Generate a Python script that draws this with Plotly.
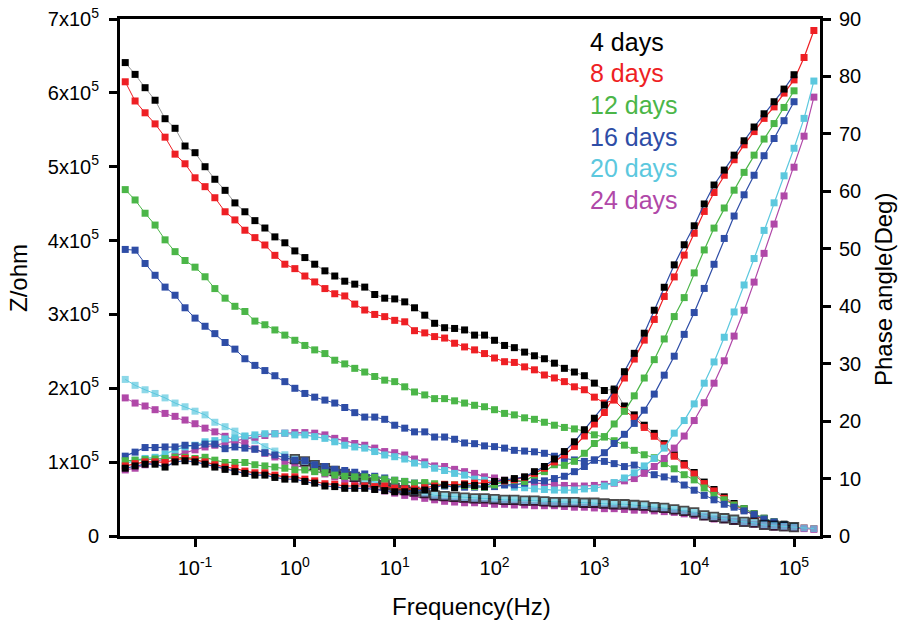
import plotly.graph_objects as go

# Frequencies (Hz), 10 points per decade
freq = [0.0200, 0.0251, 0.0316, 0.0398, 0.0501, 0.0631, 0.0794,
        0.100, 0.126, 0.158, 0.200, 0.251, 0.316, 0.398, 0.501, 0.631, 0.794,
        1.00, 1.26, 1.58, 2.00, 2.51, 3.16, 3.98, 5.01, 6.31, 7.94,
        10.0, 12.6, 15.8, 20.0, 25.1, 31.6, 39.8, 50.1, 63.1, 79.4,
        100, 126, 158, 200, 251, 316, 398, 501, 631, 794,
        1000, 1260, 1580, 2000, 2510, 3160, 3980, 5010, 6310, 7940,
        10000, 12600, 15800, 20000, 25100, 31600, 39800, 50100, 63100, 79400,
        100000, 126000, 158000]

Z_UNIT = 1e5  # values below are in units of 10^5 ohm

z_4d = [6.41, 6.25, 6.07, 5.90, 5.65, 5.52, 5.28, 5.19, 5.00, 4.83,
        4.68, 4.51, 4.39, 4.27, 4.17, 4.05, 3.97, 3.86, 3.77, 3.68,
        3.59, 3.52, 3.45, 3.41, 3.37, 3.27, 3.22, 3.21, 3.17, 3.09,
        2.99, 2.88, 2.82, 2.81, 2.79, 2.72, 2.72, 2.65, 2.58, 2.55,
        2.49, 2.44, 2.40, 2.34, 2.27, 2.22, 2.17, 2.07, 1.97, 1.99,
        1.76, 1.64, 1.50, 1.39, 1.25, 1.10, 0.98, 0.86, 0.73, 0.63,
        0.53, 0.44, 0.37, 0.30, 0.24, 0.19, 0.16, 0.13]
z_8d = [6.15, 5.89, 5.73, 5.58, 5.40, 5.17, 5.04, 4.85, 4.73, 4.58,
        4.39, 4.28, 4.14, 4.04, 3.94, 3.80, 3.68, 3.62, 3.52, 3.44,
        3.35, 3.28, 3.25, 3.14, 3.06, 3.00, 2.97, 2.92, 2.90, 2.78,
        2.75, 2.70, 2.68, 2.61, 2.56, 2.52, 2.47, 2.41, 2.36, 2.35,
        2.29, 2.25, 2.18, 2.14, 2.09, 2.02, 1.98, 1.88, 1.80, 1.84,
        1.70, 1.60, 1.47, 1.35, 1.23, 1.08, 0.96, 0.84, 0.71, 0.61,
        0.51, 0.42, 0.35, 0.28, 0.22, 0.17, 0.14, 0.12, 0.11, 0.10]
z_12d = [4.69, 4.55, 4.37, 4.21, 4.01, 3.85, 3.73, 3.64, 3.51, 3.35,
         3.22, 3.11, 3.04, 2.91, 2.86, 2.79, 2.72, 2.65, 2.58, 2.52,
         2.47, 2.38, 2.33, 2.27, 2.22, 2.16, 2.11, 2.09, 2.02, 1.95,
         1.91, 1.86, 1.86, 1.83, 1.80, 1.77, 1.75, 1.71, 1.66, 1.64,
         1.60, 1.58, 1.54, 1.50, 1.47, 1.45, 1.42, 1.37, 1.34, 1.29,
         1.23, 1.16, 1.10, 1.06, 0.98, 0.91, 0.83, 0.76, 0.65, 0.55,
         0.49, 0.42, 0.37, 0.30, 0.24, 0.19, 0.15, 0.12]
z_16d = [3.88, 3.87, 3.69, 3.53, 3.37, 3.26, 3.09, 2.95, 2.84, 2.74,
         2.62, 2.53, 2.40, 2.31, 2.24, 2.17, 2.09, 2.00, 1.93, 1.88,
         1.84, 1.80, 1.74, 1.67, 1.61, 1.61, 1.58, 1.50, 1.46, 1.41,
         1.41, 1.34, 1.34, 1.31, 1.26, 1.25, 1.22, 1.21, 1.19, 1.16,
         1.15, 1.14, 1.12, 1.08, 1.05, 1.03, 1.01, 1.03, 1.01, 0.98,
         0.94, 0.96, 0.89, 0.83, 0.80, 0.77, 0.69, 0.62, 0.55, 0.49,
         0.43, 0.39, 0.34, 0.29, 0.23, 0.19, 0.15, 0.12]
z_20d = [2.12, 2.04, 1.98, 1.93, 1.87, 1.80, 1.75, 1.69, 1.64, 1.54,
         1.48, 1.42, 1.35, 1.29, 1.21, 1.15, 1.10, 1.04, 1.01, 0.96,
         0.92, 0.88, 0.84, 0.80, 0.77, 0.73, 0.69, 0.65, 0.62, 0.60,
         0.58, 0.55, 0.54, 0.53, 0.52, 0.51, 0.51, 0.50, 0.49, 0.49,
         0.48, 0.48, 0.47, 0.46, 0.46, 0.46, 0.45, 0.45, 0.44, 0.43,
         0.43, 0.42, 0.41, 0.39, 0.38, 0.36, 0.34, 0.32, 0.28, 0.26,
         0.24, 0.22, 0.19, 0.18, 0.15, 0.14, 0.13, 0.12, 0.11, 0.10]
z_24d = [1.87, 1.80, 1.76, 1.71, 1.66, 1.62, 1.57, 1.52, 1.46, 1.41,
         1.35, 1.30, 1.24, 1.18, 1.12, 1.07, 1.01, 0.96, 0.92, 0.88,
         0.84, 0.80, 0.76, 0.72, 0.68, 0.64, 0.61, 0.58, 0.55, 0.53,
         0.51, 0.49, 0.47, 0.46, 0.45, 0.45, 0.44, 0.43, 0.43, 0.42,
         0.42, 0.41, 0.41, 0.41, 0.40, 0.39, 0.39, 0.38, 0.37, 0.37,
         0.36, 0.35, 0.35, 0.34, 0.33, 0.32, 0.30, 0.28, 0.26, 0.23,
         0.22, 0.20, 0.18, 0.16, 0.14, 0.12, 0.12, 0.11, 0.10, 0.09]

# Phase angle (deg)
ph_4d = [11.8, 12.2, 12.5, 12.5, 12.0, 12.9, 13.1, 12.9, 12.5, 12.0,
         11.6, 11.2, 10.9, 10.6, 10.6, 10.2, 9.9, 9.9, 9.5, 9.2,
         8.7, 8.6, 8.3, 8.3, 8.3, 8.1, 7.9, 7.7, 7.7, 7.8,
         8.0, 8.4, 8.9, 8.4, 8.9, 8.8, 8.6, 9.5, 9.7, 10.0,
         10.3, 11.2, 12.1, 13.4, 14.7, 16.4, 18.5, 20.5, 22.8, 25.4,
         28.6, 31.8, 35.3, 39.3, 43.3, 47.2, 50.7, 54.0, 57.8, 61.1,
         63.7, 66.3, 68.8, 71.2, 73.5, 75.6, 77.8, 80.3]
ph_8d = [12.2, 12.6, 12.9, 12.9, 12.8, 13.3, 13.5, 13.3, 12.9, 12.4,
         12.0, 11.8, 11.3, 11.0, 11.0, 10.6, 10.3, 10.3, 9.9, 9.6,
         9.1, 9.0, 8.7, 8.7, 8.7, 8.6, 8.7, 8.3, 8.2, 8.2,
         8.4, 8.7, 9.0, 8.9, 9.1, 9.2, 9.2, 9.5, 9.6, 9.8,
         10.2, 10.9, 11.8, 12.9, 14.1, 15.6, 17.4, 19.5, 21.5, 24.3,
         27.5, 30.8, 34.1, 37.7, 41.7, 45.1, 48.9, 52.7, 56.5, 59.8,
         62.8, 65.5, 68.1, 70.4, 72.7, 74.7, 77.1, 79.4, 83.3, 88.0]
ph_12d = [13.1, 13.2, 13.3, 13.4, 13.5, 13.7, 13.7, 13.5, 13.7, 13.2,
          12.8, 12.8, 12.8, 12.4, 12.2, 12.0, 11.8, 11.5, 11.5, 11.2,
          11.0, 10.6, 10.4, 10.3, 10.3, 10.2, 9.9, 9.7, 9.5, 9.2,
          9.3, 9.1, 8.9, 8.9, 8.8, 8.6, 8.5, 8.9, 9.6, 9.7,
          9.5, 10.6, 11.2, 12.4, 12.3, 13.0, 14.4, 16.1, 17.3, 19.5,
          21.7, 24.4, 27.5, 30.7, 34.3, 38.2, 41.5, 45.8, 49.8, 53.6,
          57.1, 60.2, 63.3, 66.3, 69.1, 71.8, 74.6, 77.5]
ph_16d = [13.9, 14.6, 15.4, 15.4, 15.5, 15.5, 15.8, 15.7, 16.0, 16.0,
          15.2, 15.5, 15.3, 15.1, 14.5, 14.1, 13.7, 13.2, 13.1, 12.4,
          12.1, 11.6, 11.4, 11.1, 10.8, 10.4, 10.1, 9.7, 9.5, 9.2,
          9.1, 8.9, 8.7, 8.6, 8.5, 8.5, 8.5, 8.6, 8.9, 8.9,
          9.2, 9.7, 9.6, 10.0, 10.4, 11.2, 12.1, 13.2, 14.5, 16.1,
          17.7, 19.6, 21.9, 24.7, 28.0, 31.3, 35.1, 38.9, 43.1, 47.3,
          51.8, 55.7, 59.4, 62.8, 66.2, 69.2, 72.3, 75.6]
ph_20d = [12.6, 13.2, 13.5, 13.7, 14.3, 15.0, 15.5, 15.8, 16.4, 16.6,
          16.9, 17.1, 17.4, 17.6, 17.8, 17.8, 17.9, 17.6, 17.6, 17.3,
          17.0, 16.4, 15.8, 15.5, 15.3, 14.7, 14.1, 13.8, 13.4, 12.7,
          12.4, 11.8, 11.4, 10.9, 10.6, 9.9, 9.7, 9.5, 8.9, 8.5,
          8.4, 8.2, 8.1, 8.0, 8.0, 8.0, 8.2, 8.3, 8.7, 9.3,
          10.1, 11.0, 12.2, 13.5, 15.3, 17.9, 20.1, 23.0, 26.6, 30.3,
          34.6, 39.0, 43.7, 48.3, 53.2, 58.0, 62.7, 67.5, 72.7, 79.2]
ph_24d = [11.5, 11.8, 12.4, 12.9, 13.4, 13.9, 14.4, 15.0, 15.5, 15.8,
          16.2, 16.5, 16.9, 17.2, 17.5, 17.8, 17.9, 18.0, 18.0, 17.9,
          17.6, 17.0, 16.6, 16.1, 15.8, 15.3, 14.7, 14.5, 14.1, 13.4,
          12.9, 12.2, 12.1, 11.6, 11.2, 10.9, 10.3, 10.1, 9.7, 9.6,
          9.4, 9.2, 9.1, 8.9, 8.8, 8.7, 8.7, 8.8, 9.0, 9.2,
          9.6, 10.0, 10.9, 12.1, 13.5, 15.3, 17.4, 20.1, 23.2, 26.6,
          30.5, 34.8, 39.3, 44.2, 49.2, 54.3, 59.2, 64.2, 69.6, 76.4]

labels = ["4 days", "8 days", "12 days", "16 days", "20 days", "24 days"]
colors = ["#000000", "#ee1f24", "#4bb648", "#2e4da6", "#5cc8de", "#b048a8"]
z_line_colors = ["#9a9a9a", "#ee1f24", "#4bb648", "#2e4da6", "#5cc8de", "#b048a8"]
ph_line_colors = ["#2e4da6", "#ee1f24", "#4bb648", "#2e4da6", "#5cc8de", "#b048a8"]
z_data = [z_4d, z_8d, z_12d, z_16d, z_20d, z_24d]
ph_data = [ph_4d, ph_8d, ph_12d, ph_16d, ph_20d, ph_24d]

fig = go.Figure()

MS = 7
# impedance curves (left axis); draw order: black, red, green, blue, magenta, cyan
for i in [0, 1, 2, 3, 5, 4]:
    zs = [v * Z_UNIT for v in z_data[i]]
    n = len(zs)
    marker = dict(symbol="square", size=MS, color=colors[i], line=dict(width=0))
    if i == 4:
        # 20-day curve drawn with black-edged markers where it overlaps the others
        lw = [1.8 if 17 <= k <= 67 else 0 for k in range(n)]
        lc = ["#000000" if 17 <= k <= 67 else colors[i] for k in range(n)]
        sz = [8.5 if 17 <= k <= 67 else MS for k in range(n)]
        marker = dict(symbol="square", size=sz, color=colors[i], line=dict(width=lw, color=lc))
    fig.add_trace(go.Scatter(x=freq[:n], y=zs, mode="lines+markers",
                             line=dict(color=z_line_colors[i], width=1),
                             marker=marker, showlegend=False, yaxis="y"))

# phase curves (right axis)
for i in [5, 4, 3, 2, 1, 0]:
    ps = ph_data[i]
    n = len(ps)
    fig.add_trace(go.Scatter(x=freq[:n], y=ps, mode="lines+markers",
                             line=dict(color=ph_line_colors[i], width=1.2),
                             marker=dict(symbol="square", size=MS, color=colors[i], line=dict(width=0)),
                             showlegend=False, yaxis="y2"))

FONT = "Liberation Sans, Arial, sans-serif"
L, R, T, B = 120, 80, 19, 89
W, H = 900, 625
PW, PH = W - L - R, H - T - B

def px(x):
    return (x - L) / PW

def py(y):
    return (H - B - y) / PH

x_tickvals = [0.1, 1, 10, 100, 1000, 10000, 100000]
x_ticktext = ["10<sup>-1</sup>", "10<sup>0</sup>", "10<sup>1</sup>", "10<sup>2</sup>",
              "10<sup>3</sup>", "10<sup>4</sup>", "10<sup>5</sup>"]
z_tickvals = [0, 1e5, 2e5, 3e5, 4e5, 5e5, 6e5, 7e5]
z_ticktext = ["0"] + ["%dx10<sup>5</sup>" % k for k in range(1, 8)]
ph_tickvals = [0, 10, 20, 30, 40, 50, 60, 70, 80, 90]

axis_common = dict(showline=True, linecolor="black", linewidth=3, ticks="outside",
                   ticklen=8, tickwidth=2.5, tickcolor="black", showgrid=False,
                   zeroline=False, automargin=False,
                   tickfont=dict(family=FONT, size=20, color="black"))

fig.update_layout(
    width=W, height=H,
    margin=dict(l=L, r=R, t=T, b=B, autoexpand=False),
    paper_bgcolor="white", plot_bgcolor="white",
    xaxis=dict(type="log", range=[-1.7515, 5.26], tickvals=x_tickvals, ticktext=x_ticktext,
               mirror=True, ticklabelstandoff=4, **axis_common),
    yaxis=dict(range=[0, 7e5], tickvals=z_tickvals, ticktext=z_ticktext,
               ticklabelstandoff=6, **axis_common),
    yaxis2=dict(range=[0, 90], tickvals=ph_tickvals, overlaying="y", side="right",
                ticklabelstandoff=4, **axis_common),
    showlegend=False,
)

title_font = dict(family=FONT, size=24, color="black")
ann = []
ann.append(dict(text="Z/ohm", x=px(18), y=py(278), xref="paper", yref="paper",
                xanchor="center", yanchor="middle",
                textangle=-90, showarrow=False, font=title_font))
ann.append(dict(text="Phase angle(Deg)", x=px(883), y=py(290), xref="paper", yref="paper",
                xanchor="center", yanchor="middle",
                textangle=-90, showarrow=False, font=title_font))
ann.append(dict(text="Frequency(Hz)", x=px(471), y=py(606), xref="paper", yref="paper",
                xanchor="center", yanchor="middle", showarrow=False, font=title_font))
leg_y = [42, 73, 105, 137, 168, 200]
for lab, col, yy in zip(labels, colors, leg_y):
    ann.append(dict(text=lab, x=px(588), y=py(yy), xref="paper", yref="paper",
                    xanchor="left", yanchor="middle", showarrow=False,
                    font=dict(family=FONT, size=25, color=col)))
fig.update_layout(annotations=ann)

fig.write_html("out.html", config={"displayModeBar": False},
               post_script="document.body.style.margin='0';document.body.style.padding='0';")
